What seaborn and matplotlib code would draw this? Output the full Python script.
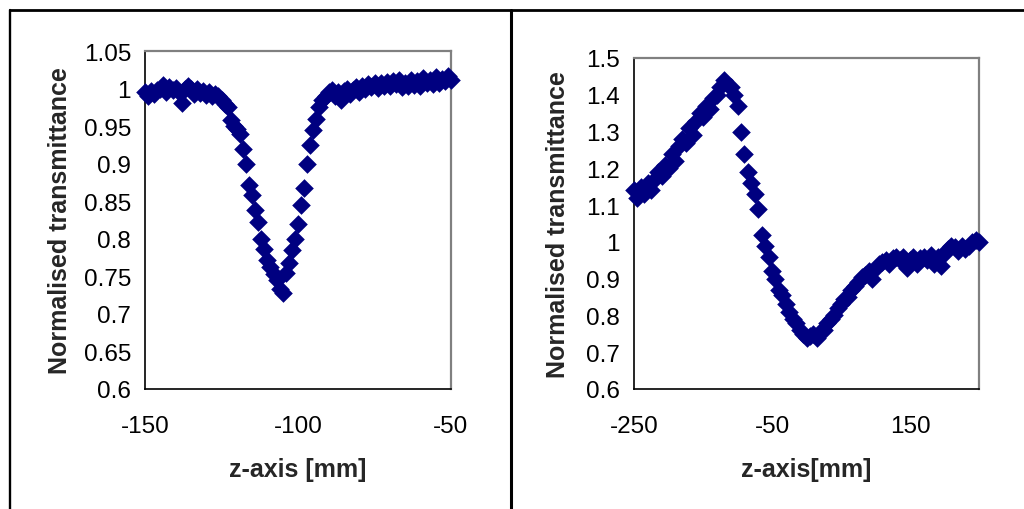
import pandas as pd
import numpy as np
import matplotlib.pyplot as plt
import seaborn as sns
from matplotlib.lines import Line2D
from matplotlib.ticker import FuncFormatter

# left scan, z in mm
z_left = [-150, -149, -148, -147, -146, -145, -144, -143, -142, -141,
          -140, -139, -138, -137, -136, -135, -134, -133, -132, -131,
          -130, -129, -128, -127, -126, -125, -124, -123, -122, -121,
          -120, -119, -118, -117, -116, -115, -114, -113, -112, -111,
          -110, -109, -108, -107, -106, -105, -104, -103, -102, -101,
          -100, -99, -98, -97, -96, -95, -94, -93, -92, -91,
          -90, -89, -88, -87, -86, -85, -84, -83, -82, -81,
          -80, -79, -78, -77, -76, -75, -74, -73, -72, -71,
          -70, -69, -68, -67, -66, -65, -64, -63, -62, -61,
          -60, -59, -58, -57, -56, -55, -54, -53, -52, -51, -50]
t_left = [0.995, 0.990, 0.997, 0.993, 0.998, 1.000, 1.005, 0.996, 1.002, 0.998,
          1.001, 0.995, 0.981, 1.000, 1.004, 0.999, 0.993, 1.000, 0.994, 0.997,
          0.992, 0.995, 0.990, 0.993, 0.990, 0.985, 0.980, 0.975, 0.958, 0.950,
          0.946, 0.940, 0.920, 0.900, 0.872, 0.858, 0.838, 0.822, 0.800, 0.786,
          0.772, 0.762, 0.753, 0.745, 0.733, 0.728, 0.755, 0.768, 0.785, 0.800,
          0.820, 0.845, 0.868, 0.900, 0.925, 0.945, 0.960, 0.975, 0.985, 0.990,
          0.995, 0.998, 0.990, 0.995, 0.985, 0.997, 1.000, 0.993, 0.998, 1.002,
          0.996, 1.003, 1.000, 1.006, 1.002, 1.007, 1.001, 1.008, 1.004, 1.009,
          1.003, 1.010, 1.006, 1.011, 1.002, 1.008, 1.004, 1.012, 1.005, 1.010,
          1.003, 1.014, 1.007, 1.012, 1.006, 1.016, 1.008, 1.013, 1.010, 1.017, 1.012]

# right scan, z in mm
z_right = [-250, -245, -240, -235, -230, -225, -220, -215, -210, -205,
           -200, -195, -190, -185, -180, -175, -170, -165, -160, -155,
           -150, -145, -140, -135, -130, -125, -120, -115, -110, -105,
           -100, -95, -90, -85, -80, -75, -70, -65, -60, -55,
           -50, -45, -40, -35, -30, -25, -20, -15, -10, -5,
           0, 5, 10, 15, 20, 25, 30, 35, 40, 45,
           50, 55, 60, 65, 70, 75, 80, 85, 90, 95,
           100, 105, 110, 115, 120, 125, 130, 135, 140, 145,
           150, 155, 160, 165, 170, 175, 180, 185, 190, 195,
           200, 205, 210, 215, 220, 225, 230, 235, 240, 245, 250]
t_right = [1.14, 1.12, 1.15, 1.13, 1.16, 1.14, 1.17, 1.19, 1.18, 1.21,
           1.20, 1.24, 1.22, 1.26, 1.28, 1.27, 1.31, 1.29, 1.33, 1.35,
           1.34, 1.37, 1.36, 1.39, 1.40, 1.42, 1.44, 1.43, 1.42, 1.40,
           1.37, 1.30, 1.24, 1.19, 1.16, 1.13, 1.09, 1.02, 0.99, 0.96,
           0.92, 0.90, 0.87, 0.855, 0.83, 0.81, 0.79, 0.78, 0.76, 0.75,
           0.74, 0.745, 0.75, 0.74, 0.755, 0.76, 0.78, 0.79, 0.80, 0.82,
           0.83, 0.845, 0.85, 0.87, 0.88, 0.89, 0.905, 0.91, 0.92, 0.90,
           0.93, 0.94, 0.945, 0.95, 0.94, 0.955, 0.96, 0.95, 0.96, 0.93,
           0.95, 0.96, 0.94, 0.955, 0.96, 0.95, 0.965, 0.94, 0.96, 0.935,
           0.97, 0.98, 0.99, 0.985, 0.975, 0.99, 0.98, 0.99, 1.00, 1.005, 1.00]

left_xticks = [-150, -100, -50]
left_yticks = [0.6, 0.65, 0.7, 0.75, 0.8, 0.85, 0.9, 0.95, 1.0, 1.05]
right_xticks = [-250, -50, 150]
right_yticks = [0.6, 0.7, 0.8, 0.9, 1.0, 1.1, 1.2, 1.3, 1.4, 1.5]

left = pd.DataFrame({"z": z_left, "T": t_left})
right = pd.DataFrame({"z": z_right, "T": t_right})

sns.set_style("white")
plt.rcParams["font.family"] = ["Liberation Sans", "DejaVu Sans"]
plt.rcParams["axes.unicode_minus"] = False

fig = plt.figure(figsize=(10.24, 5.10), dpi=100)
ax1 = fig.add_axes([145/1024, 1-390/510, 306/1024, 338/510])
ax2 = fig.add_axes([634/1024, 1-390/510, 345/1024, 331/510])

fmt = FuncFormatter(lambda v, p: "%g" % round(v, 2))

panels = [(ax1, left, (-150, -50), (0.6, 1.05), left_xticks, left_yticks,
           "z-axis [mm]", -0.278, -0.237),
          (ax2, right, (-250, 250), (0.6, 1.5), right_xticks, right_yticks,
           "z-axis[mm]", -0.22, -0.242)]

for ax, df, xl, yl, xt, yt, xlab, ylx, xly in panels:
    sns.scatterplot(data=df, x="z", y="T", ax=ax, marker="D", s=90,
                    color="#000080", linewidth=0, clip_on=False, zorder=3)
    ax.set_xlim(xl)
    ax.set_ylim(yl)
    ax.set_xticks(xt)
    ax.set_yticks(yt)
    ax.xaxis.set_major_formatter(fmt)
    ax.yaxis.set_major_formatter(fmt)
    ax.tick_params(direction="inout", length=14, width=1, color="black",
                   labelsize=17.5, labelcolor="black")
    ax.tick_params(axis="y", pad=3)
    ax.tick_params(axis="x", pad=12)
    for s in ["left", "bottom"]:
        ax.spines[s].set_color("black")
        ax.spines[s].set_linewidth(1.2)
    for s in ["top", "right"]:
        ax.spines[s].set_color("#808080")
        ax.spines[s].set_linewidth(1.6)
    ax.set_xlabel(xlab, fontsize=18, fontweight="bold", va="center")
    ax.set_ylabel("Normalised transmittance", fontsize=18, fontweight="bold",
                  va="center")
    ax.xaxis.set_label_coords(0.5, xly)
    ax.yaxis.set_label_coords(ylx, 0.5)

# outer frame lines
fig.add_artist(Line2D([10/1024, 1], [1-11/510, 1-11/510], color="black", lw=2))
fig.add_artist(Line2D([10/1024, 10/1024], [0, 1-11/510], color="black", lw=1.7))
fig.add_artist(Line2D([510.5/1024, 510.5/1024], [0, 1-11/510], color="black", lw=2.2))

plt.savefig("out.png", dpi=100)
